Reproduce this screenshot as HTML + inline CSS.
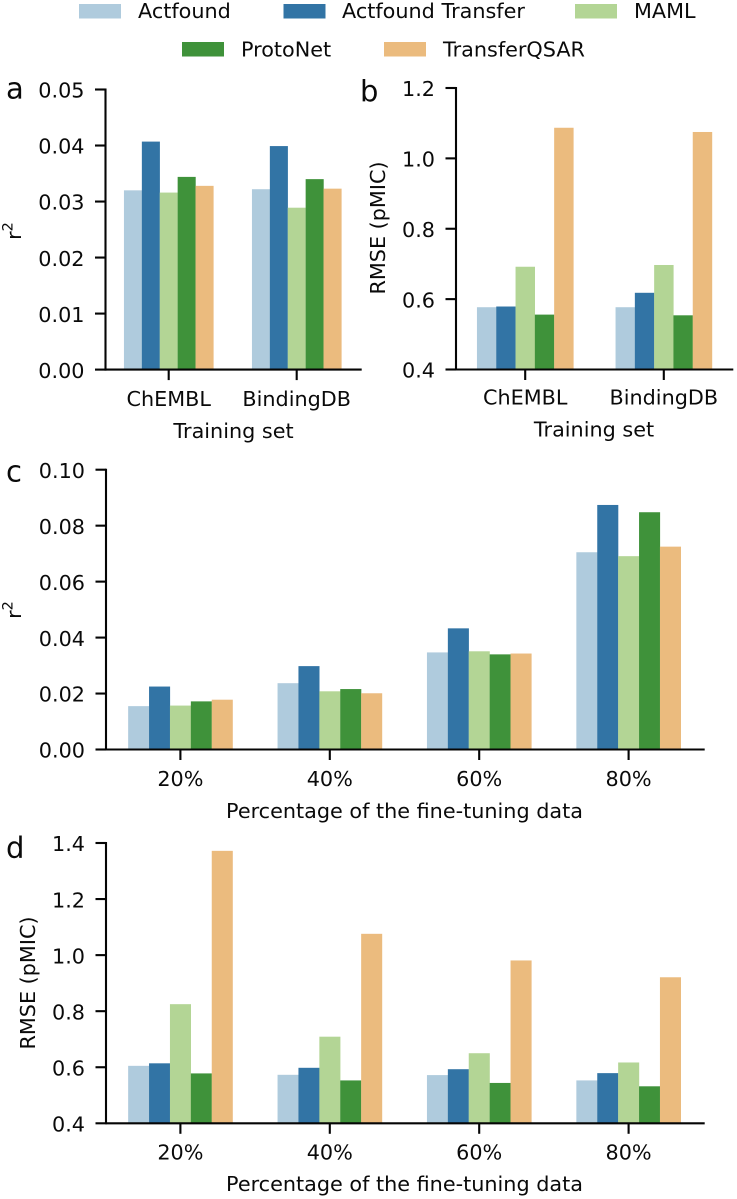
<!DOCTYPE html>
<html lang="en">
<head>
<meta charset="utf-8">
<title>Model comparison bar charts</title>
<style>
html,body{margin:0;padding:0;background:#fff;width:737px;height:1199px;overflow:hidden}
svg{display:block;filter:blur(0.35px)}
text{font-family:"DejaVu Sans","Liberation Sans",sans-serif;fill:#0a0a0a;font-size:20.75px}
.panel-letter{font-size:29px}
</style>
</head>
<body>
<svg id="chart" xmlns="http://www.w3.org/2000/svg" width="737" height="1199" viewBox="0 0 737 1199">
  <g>
    <rect x="79" y="4" width="42" height="14.5" fill="#afcbdd"/>
    <text x="138" y="18">Actfound</text>
    <rect x="283.5" y="4" width="42" height="14.5" fill="#3274a5"/>
    <text x="342" y="18">Actfound Transfer</text>
    <rect x="575" y="4" width="42" height="14.5" fill="#b3d595"/>
    <text x="634" y="18">MAML</text>
    <rect x="182" y="42" width="42" height="14.5" fill="#3f923a"/>
    <text x="241" y="56.5">ProtoNet</text>
    <rect x="384" y="42" width="42" height="14.5" fill="#ebbb7e"/>
    <text x="443" y="56.5">TransferQSAR</text>
  </g>
  <text class="panel-letter" x="6" y="98.5">a</text>
  <text class="panel-letter" x="360" y="101.5">b</text>
  <text class="panel-letter" x="6" y="481.5">c</text>
  <text class="panel-letter" x="6" y="858">d</text>
</svg>
<script>
// ---- data ----
const seriesNames = ["Actfound", "Actfound Transfer", "MAML", "ProtoNet", "TransferQSAR"];
const seriesColors = ["#afcbdd", "#3274a5", "#b3d595", "#3f923a", "#ebbb7e"];

const trainingCategories = ["ChEMBL", "BindingDB"];
const percentCategories = ["20%", "40%", "60%", "80%"];

const panelAValues = [
  [0.0320, 0.0407, 0.0316, 0.0344, 0.0328],
  [0.0322, 0.0399, 0.0289, 0.0340, 0.0323]
];
const panelBValues = [
  [0.577, 0.579, 0.692, 0.556, 1.087],
  [0.577, 0.618, 0.697, 0.554, 1.075]
];
const panelCValues = [
  [0.0155, 0.0225, 0.0157, 0.0172, 0.0178],
  [0.0237, 0.0298, 0.0208, 0.0216, 0.0201],
  [0.0347, 0.0433, 0.0351, 0.0340, 0.0343],
  [0.0705, 0.0874, 0.0691, 0.0848, 0.0725]
];
const panelDValues = [
  [0.605, 0.614, 0.825, 0.578, 1.372],
  [0.573, 0.598, 0.709, 0.553, 1.076],
  [0.572, 0.593, 0.650, 0.544, 0.981],
  [0.553, 0.579, 0.617, 0.532, 0.921]
];

const panelATicks = ["0.00", "0.01", "0.02", "0.03", "0.04", "0.05"];
const panelBTicks = ["0.4", "0.6", "0.8", "1.0", "1.2"];
const panelCTicks = ["0.00", "0.02", "0.04", "0.06", "0.08", "0.10"];
const panelDTicks = ["0.4", "0.6", "0.8", "1.0", "1.2", "1.4"];

// ---- drawing ----
const NS = "http://www.w3.org/2000/svg";
const svg = document.getElementById("chart");
const AXIS_COLOR = "#050505";
const AXIS_WIDTH = 2.1;

function make(tag, parent, props) {
  const el = document.createElementNS(NS, tag);
  for (const k in props) el.setAttribute(k, props[k]);
  parent.appendChild(el);
  return el;
}

function drawPanel(p) {
  const g = make("g", svg, {});
  
  

  const lo = parseFloat(p.ticks[0]);
  const hi = parseFloat(p.ticks[p.ticks.length - 1]);
  const yScale = v => p.yBottom - (v - lo) / (hi - lo) * (p.yBottom - p.yTop);
  const xCenter = i => p.firstCenter + i * p.spacing;

  // bars
  p.values.forEach((row, i) => {
    row.forEach((v, s) => {
      const x = xCenter(i) + (s - row.length / 2) * p.barWidth;
      const y = yScale(v);
      const bar = make("rect", g, {
        x: x, y: y, width: p.barWidth + 0.15, height: p.yBottom - y, fill: seriesColors[s]
      });
      
      
      const tip = make("title", bar, {});
      tip.textContent = seriesNames[s] + " / " + p.categories[i] + ": " + v;
    });
  });

  // y axis spine
  const ySpine = make("line", g, {
    x1: p.xAxis, x2: p.xAxis, y1: p.yTop - 1, y2: p.yBottom + 1,
    stroke: AXIS_COLOR, "stroke-width": AXIS_WIDTH
  });
  
  

  // x axis spine
  const xSpine = make("line", g, {
    x1: p.xAxis, x2: p.xEnd, y1: p.yBottom, y2: p.yBottom,
    stroke: AXIS_COLOR, "stroke-width": AXIS_WIDTH
  });
  
  

  // y ticks
  p.ticks.forEach(t => {
    const y = yScale(parseFloat(t));
    const tick = make("line", g, {
      x1: p.xAxis - 10.5, x2: p.xAxis, y1: y, y2: y,
      stroke: AXIS_COLOR, "stroke-width": AXIS_WIDTH
    });
    
    
    const label = make("text", g, {
      x: p.xAxis - 21, y: y + 8.2, "text-anchor": "end"
    });
    
    
    label.textContent = t;
  });

  // x ticks
  p.categories.forEach((c, i) => {
    const x = xCenter(i);
    const tick = make("line", g, {
      x1: x, x2: x, y1: p.yBottom, y2: p.yBottom + 10.5,
      stroke: AXIS_COLOR, "stroke-width": AXIS_WIDTH
    });
    
    
    const label = make("text", g, {
      x: x, y: p.xTickBase, "text-anchor": "middle"
    });
    
    
    label.textContent = c;
  });

  // x axis title
  const xTitle = make("text", g, {
    x: p.xTitleX, y: p.xTitleBase, "text-anchor": "middle"
  });
  
  
  xTitle.textContent = p.xTitle;

  // y axis title
  const yTitle = make("text", g, {
    transform: "translate(" + p.yTitleX + "," + p.yTitleY + ") rotate(-90)",
    "text-anchor": "middle"
  });
  
  
  if (p.yTitleSup) {
    const base = make("tspan", yTitle, {});
    base.textContent = p.yTitle;
    const sup = make("tspan", yTitle, { dy: -8.5, "font-size": 14.5 });
    sup.textContent = p.yTitleSup;
  } else {
    yTitle.textContent = p.yTitle;
  }
}

drawPanel({
  id: "panel-a-r2-training-set", values: panelAValues, categories: trainingCategories, ticks: panelATicks,
  xAxis: 105.5, xEnd: 361.7, yTop: 89.5, yBottom: 369.6,
  firstCenter: 168.7, spacing: 128, barWidth: 17.9,
  xTickBase: 406, xTitle: "Training set", xTitleX: 233.5, xTitleBase: 438,
  yTitle: "r", yTitleSup: "2", yTitleX: 21, yTitleY: 231
});
drawPanel({
  id: "panel-b-rmse-training-set", values: panelBValues, categories: trainingCategories, ticks: panelBTicks,
  xAxis: 456, xEnd: 733.3, yTop: 88, yBottom: 369.5,
  firstCenter: 525.2, spacing: 138.6, barWidth: 19.3,
  xTickBase: 404.5, xTitle: "Training set", xTitleX: 594, xTitleBase: 436.5,
  yTitle: "RMSE (pMIC)", yTitleX: 385, yTitleY: 228
});
drawPanel({
  id: "panel-c-r2-percentage", values: panelCValues, categories: percentCategories, ticks: panelCTicks,
  xAxis: 106, xEnd: 704.7, yTop: 469.7, yBottom: 749.5,
  firstCenter: 180.4, spacing: 149.4, barWidth: 20.9,
  xTickBase: 786, xTitle: "Percentage of the fine-tuning data", xTitleX: 404.5, xTitleBase: 818,
  yTitle: "r", yTitleSup: "2", yTitleX: 21, yTitleY: 610
});
drawPanel({
  id: "panel-d-rmse-percentage", values: panelDValues, categories: percentCategories, ticks: panelDTicks,
  xAxis: 106, xEnd: 704.7, yTop: 843, yBottom: 1123.3,
  firstCenter: 180.4, spacing: 149.4, barWidth: 20.9,
  xTickBase: 1159.5, xTitle: "Percentage of the fine-tuning data", xTitleX: 404.5, xTitleBase: 1191,
  yTitle: "RMSE (pMIC)", yTitleX: 35, yTitleY: 983
});
</script>
</body>
</html>
